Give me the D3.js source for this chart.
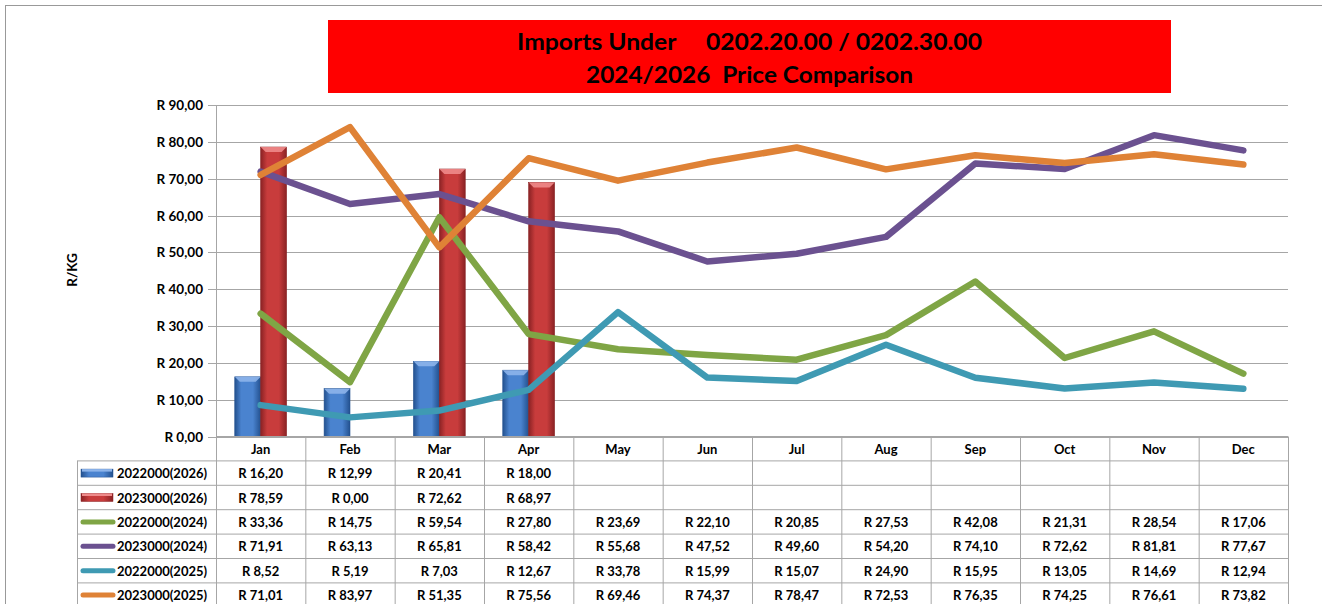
<!DOCTYPE html>
<html>
<head>
<meta charset="utf-8">
<script src="https://cdn.jsdelivr.net/npm/d3@7"></script>
<style>
  body { margin: 0; background: #fff; }
  svg { font-family: Lato, "Open Sans", sans-serif; font-weight: bold; }
</style>
</head>
<body>
<div id="chart"></div>
<script>
const months = ["Jan", "Feb", "Mar", "Apr", "May", "Jun", "Jul", "Aug", "Sep", "Oct", "Nov", "Dec"];
const barNames = ["2022000(2026)", "2023000(2026)"];
const bar2022_2026 = [16.20, 12.99, 20.41, 18.00];
const bar2023_2026 = [78.59, 0.00, 72.62, 68.97];
const lineNames = ["2022000(2024)", "2023000(2024)", "2022000(2025)", "2023000(2025)"];
const line2022_2024 = [33.36, 14.75, 59.54, 27.80, 23.69, 22.10, 20.85, 27.53, 42.08, 21.31, 28.54, 17.06];
const line2023_2024 = [71.91, 63.13, 65.81, 58.42, 55.68, 47.52, 49.60, 54.20, 74.10, 72.62, 81.81, 77.67];
const line2022_2025 = [8.52, 5.19, 7.03, 12.67, 33.78, 15.99, 15.07, 24.90, 15.95, 13.05, 14.69, 12.94];
const line2023_2025 = [71.01, 83.97, 51.35, 75.56, 69.46, 74.37, 78.47, 72.53, 76.35, 74.25, 76.61, 73.82];
const yTicks = [0, 10, 20, 30, 40, 50, 60, 70, 80, 90];

const W = 1322, H = 604;
const fmt = v => "R " + v.toFixed(2).replace(".", ",");

const svg = d3.select("#chart").append("svg")
    .attr("width", W).attr("height", H);

// outer frame
svg.append("rect")
    .attr("x", 5.5).attr("y", 5.5)
    .attr("width", W).attr("height", H)
    .attr("fill", "none").attr("stroke", "#999").attr("stroke-width", 1);

// title
svg.append("rect")
    .attr("x", 328).attr("y", 20).attr("width", 843).attr("height", 73)
    .attr("fill", "#ff0000");
svg.append("text")
    .attr("x", 517).attr("y", 50)
    .attr("textLength", 465).attr("lengthAdjust", "spacingAndGlyphs")
    .style("font-size", "23px").style("white-space", "pre")
    .text("Imports Under     0202.20.00 / 0202.30.00");
svg.append("text")
    .attr("x", 586).attr("y", 82.5)
    .attr("textLength", 327).attr("lengthAdjust", "spacingAndGlyphs")
    .style("font-size", "23px").style("white-space", "pre")
    .text("2024/2026  Price Comparison");

const plotL = 216, plotR = 1288, plotT = 105, plotB = 436.5;

const x = d3.scaleBand().domain(months).range([plotL, plotR]).padding(0);
const xBar = d3.scaleBand().domain(barNames)
    .range([x.bandwidth() * 0.21, x.bandwidth() * 0.79]).padding(0);
const y = d3.scaleLinear().domain([0, 90]).range([plotB, plotT]);

// gridlines
svg.append("g").selectAll("line").data(yTicks).enter().append("line")
    .attr("x1", plotL - 8).attr("x2", plotR)
    .attr("y1", d => Math.round(y(d)) + 0.5).attr("y2", d => Math.round(y(d)) + 0.5)
    .attr("stroke", "#a6a6a6").attr("stroke-width", 1);

svg.append("line")
    .attr("x1", plotL + 0.5).attr("x2", plotL + 0.5)
    .attr("y1", plotT).attr("y2", plotB)
    .attr("stroke", "#a6a6a6");

// y axis labels
svg.append("g").selectAll("text").data(yTicks).enter().append("text")
    .attr("x", 203).attr("y", d => y(d) + 5)
    .attr("text-anchor", "end")
    .style("font-size", "13.5px")
    .text(d => fmt(d));

svg.append("text")
    .attr("transform", "translate(77,270) rotate(-90)")
    .attr("text-anchor", "middle")
    .style("font-size", "13.5px")
    .text("R/KG");

// bar gradients
const defs = svg.append("defs");
const barColors = [
    {id: "gBlue", dark: "#23518f", mid: "#4a83cf", cap: "#8db4ea"},
    {id: "gRed", dark: "#8a2224", mid: "#c83c3c", cap: "#ee8a8a"}
];
barColors.forEach(c => {
    const g = defs.append("linearGradient").attr("id", c.id)
        .attr("x1", "0").attr("x2", "1").attr("y1", "0").attr("y2", "0");
    g.append("stop").attr("offset", "0%").attr("stop-color", c.dark);
    g.append("stop").attr("offset", "25%").attr("stop-color", c.mid);
    g.append("stop").attr("offset", "70%").attr("stop-color", c.mid);
    g.append("stop").attr("offset", "100%").attr("stop-color", c.dark);
});

const barSeries = [bar2022_2026, bar2023_2026];
barSeries.forEach((vals, si) => {
    const c = barColors[si];
    const gb = svg.append("g");
    const items = vals.map((v, i) => ({m: months[i], v: v})).filter(d => d.v > 0);
    gb.selectAll("rect").data(items).enter().append("rect")
        .attr("x", d => x(d.m) + xBar(barNames[si]))
        .attr("y", d => y(d.v))
        .attr("width", xBar.bandwidth())
        .attr("height", d => y(0) - y(d.v))
        .attr("fill", "url(#" + c.id + ")")
        .attr("stroke", c.dark).attr("stroke-width", 0.6);
    // bevel cap
    gb.selectAll("path").data(items).enter().append("path")
        .attr("d", d => {
            const x0 = x(d.m) + xBar(barNames[si]), w = xBar.bandwidth(), t = y(d.v);
            return "M" + x0 + "," + t + "L" + (x0 + w) + "," + t +
                "L" + (x0 + w - 5) + "," + (t + 5) + "L" + (x0 + 5) + "," + (t + 5) + "Z";
        })
        .attr("fill", c.cap).attr("opacity", 0.9);
});

// lines
const lineSeries = [line2022_2024, line2023_2024, line2022_2025, line2023_2025];
const lineColors = ["#7fa545", "#6b5190", "#3f9ab3", "#df8236"];
const line = d3.line()
    .x((d, i) => x(months[i]) + x.bandwidth() / 2)
    .y(d => y(d));
lineSeries.forEach((vals, si) => {
    svg.append("path")
        .datum(vals)
        .attr("d", line)
        .attr("fill", "none")
        .attr("stroke", lineColors[si])
        .attr("stroke-width", 6.5)
        .attr("stroke-linecap", "round")
        .attr("stroke-linejoin", "round");
});

// data table
const tblL = 77, rowH = 24.4, headT = 436.5;
const tbl = svg.append("g");
const tableRows = [
    {name: barNames[0], vals: bar2022_2026, kind: "bar", c: 0},
    {name: barNames[1], vals: bar2023_2026, kind: "bar", c: 1},
    {name: lineNames[0], vals: line2022_2024, kind: "line", c: 0},
    {name: lineNames[1], vals: line2023_2024, kind: "line", c: 1},
    {name: lineNames[2], vals: line2022_2025, kind: "line", c: 2},
    {name: lineNames[3], vals: line2023_2025, kind: "line", c: 3}
];
const gridC = "#a6a6a6";

// header cells
tbl.append("line").attr("x1", plotL).attr("x2", plotR)
    .attr("y1", headT).attr("y2", headT).attr("stroke", gridC);
months.forEach(m => {
    tbl.append("text")
        .attr("x", x(m) + x.bandwidth() / 2).attr("y", headT + 17)
        .attr("text-anchor", "middle").style("font-size", "13px")
        .text(m);
});
// horizontal lines
d3.range(tableRows.length + 1).forEach(i => {
    const yy = headT + rowH * (i + 1);
    tbl.append("line").attr("x1", tblL).attr("x2", plotR)
        .attr("y1", yy).attr("y2", yy).attr("stroke", gridC);
});
// vertical lines
months.concat(["end"]).forEach((m, i) => {
    const xx = i < 12 ? x(m) : plotR;
    tbl.append("line").attr("x1", xx + 0.5).attr("x2", xx + 0.5)
        .attr("y1", headT).attr("y2", H).attr("stroke", gridC);
});
tbl.append("line").attr("x1", tblL + 0.5).attr("x2", tblL + 0.5)
    .attr("y1", headT + rowH).attr("y2", H).attr("stroke", gridC);

tableRows.forEach((r, ri) => {
    const top = headT + rowH * (ri + 1);
    const mid = top + rowH / 2;
    if (r.kind === "bar") {
        const c = barColors[r.c];
        tbl.append("rect").attr("x", 81).attr("y", mid - 4).attr("width", 32).attr("height", 8)
            .attr("fill", "url(#" + c.id + ")").attr("stroke", c.dark).attr("stroke-width", 0.5);
        tbl.append("rect").attr("x", 82).attr("y", mid - 4).attr("width", 30).attr("height", 2.5)
            .attr("fill", c.cap);
    } else {
        tbl.append("line").attr("x1", 83).attr("x2", 113).attr("y1", mid).attr("y2", mid)
            .attr("stroke", lineColors[r.c]).attr("stroke-width", 5)
            .attr("stroke-linecap", "round");
    }
    tbl.append("text").attr("x", 117).attr("y", mid + 5)
        .style("font-size", "13px").text(r.name);
    r.vals.forEach((v, i) => {
        tbl.append("text")
            .attr("x", x(months[i]) + x.bandwidth() / 2).attr("y", mid + 5)
            .attr("text-anchor", "middle").style("font-size", "13px")
            .text(fmt(v));
    });
});
</script>
</body>
</html>
